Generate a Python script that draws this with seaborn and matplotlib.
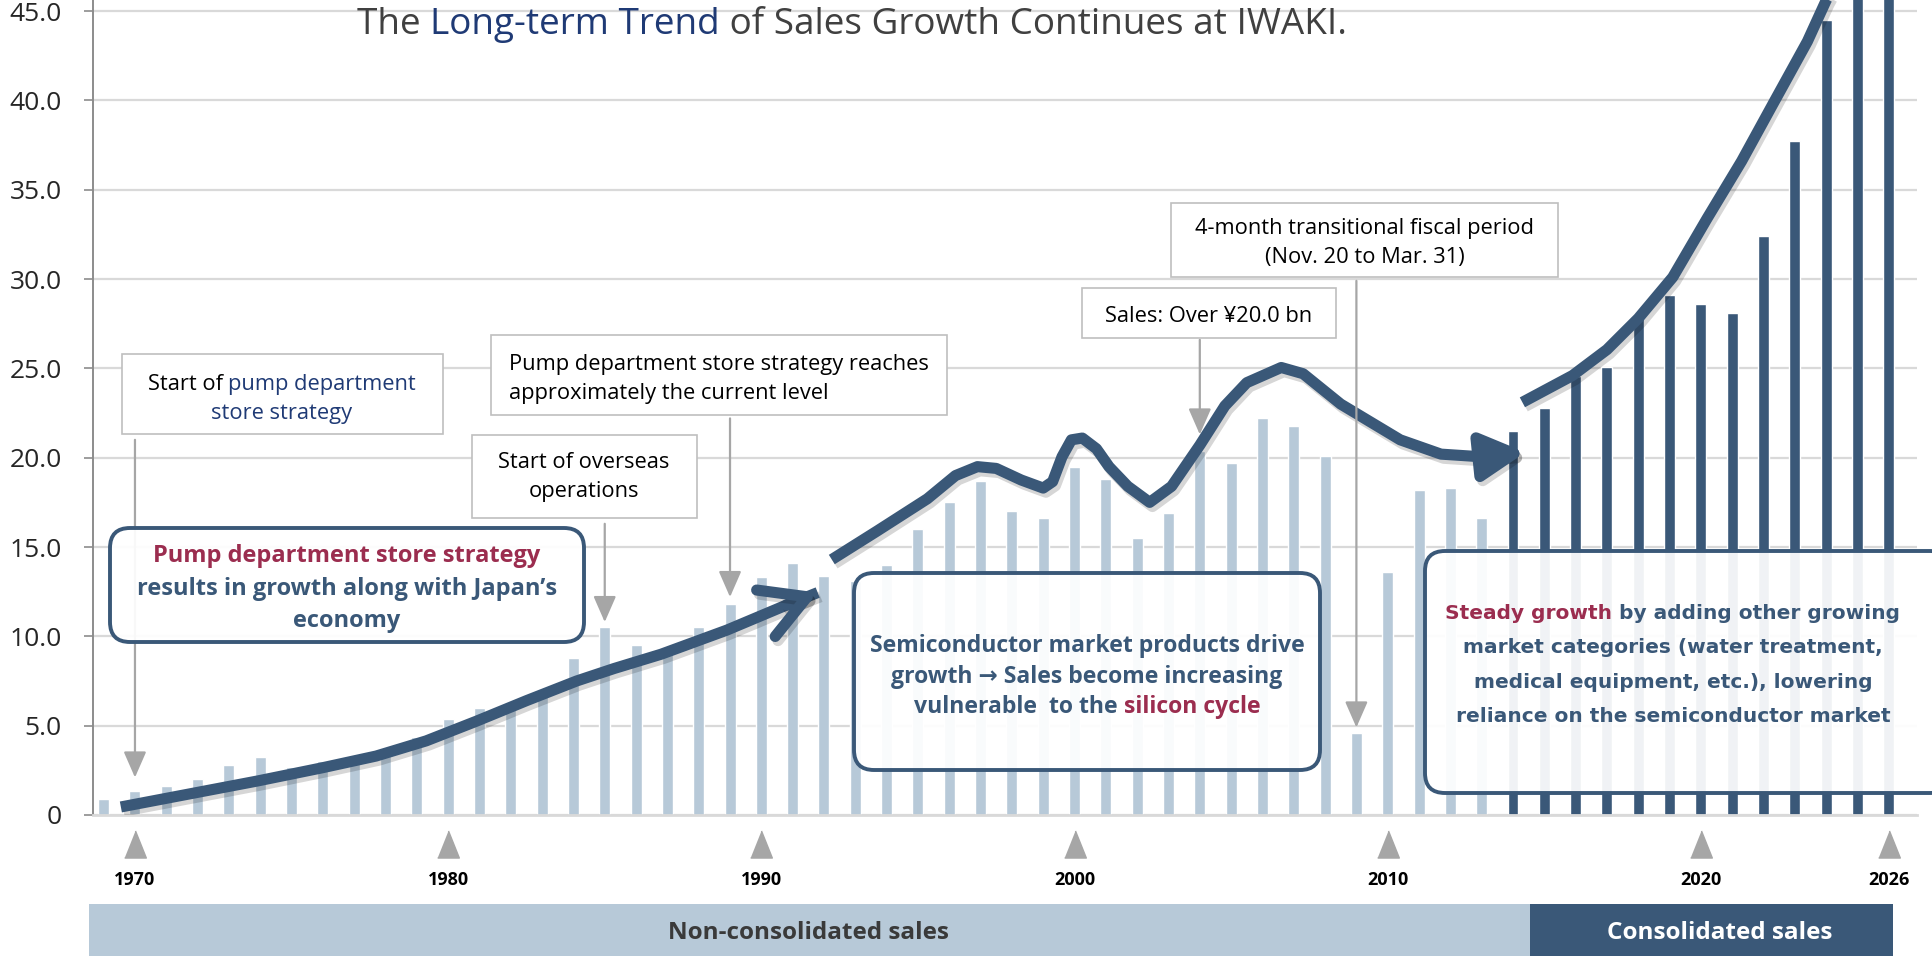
"""IWAKI long-term sales trend: yearly sales bars with annotated growth phases."""
import matplotlib

matplotlib.use("Agg")
import matplotlib.patheffects as pe
import matplotlib.pyplot as plt
import pandas as pd
import seaborn as sns
from matplotlib.patches import FancyBboxPatch, Rectangle
from matplotlib.transforms import IdentityTransform

# ---- data (sales, ¥ bn) -------------------------------------------------
years = list(range(1969, 2027))
non_consolidated = [
    0.9, 1.35, 1.6, 2.0, 2.8, 3.25, 2.7, 3.05, 3.3, 3.4,          # 1969-78
    4.35, 5.4, 6.0, 6.3, 6.9, 8.8, 10.5, 9.5, 9.2, 10.5,          # 1979-88
    11.8, 13.3, 14.1, 13.4, 13.1, 14.0, 16.0, 17.5, 18.7, 17.0,   # 1989-98
    16.6, 19.5, 18.8, 15.5, 16.9, 20.4, 19.7, 22.2, 21.8, 20.1,   # 1999-2008
    4.6, 13.6, 18.2, 18.3, 16.6,                                  # 2009-13
]
consolidated = [21.5, 22.8, 24.6, 25.1, 27.9, 29.1, 28.6, 28.1, 32.4, 37.7, 44.5, 49.0, 53.0]

ytick_values = [0, 5, 10, 15, 20, 25, 30, 35, 40, 45]
ytick_labels = ["0", "5.0", "10.0", "15.0", "20.0", "25.0", "30.0", "35.0", "40.0", "45.0"]
marked_years = [1970, 1980, 1990, 2000, 2010, 2020, 2026]

# hand-drawn trend ribbons (year, level)
trend_rise_year = [1969.55, 1971.8, 1973.9, 1976.0, 1977.7, 1979.3, 1980.9, 1982.5,
                   1984.1, 1985.3, 1986.8, 1988.9, 1990.8, 1991.8]
trend_rise_val = [0.45, 1.2, 1.9, 2.65, 3.3, 4.15, 5.25, 6.4, 7.5, 8.2, 9.0, 10.35, 11.75, 12.45]
trend_cycle_year = [1992.25, 1993.7, 1995.3, 1996.2, 1996.9, 1997.5, 1998.3, 1999.0, 1999.3,
                    1999.6, 1999.9, 2000.25, 2000.7, 2001.1, 2001.7, 2002.4, 2003.1, 2004.0,
                    2004.8, 2005.5, 2006.6, 2007.3, 2008.5, 2010.4, 2011.7, 2013.0, 2014.4]
trend_cycle_val = [14.3, 15.9, 17.7, 19.0, 19.5, 19.4, 18.75, 18.3, 18.66, 20.05, 21.0, 21.1,
                   20.5, 19.5, 18.4, 17.5, 18.4, 20.7, 22.9, 24.2, 25.05, 24.7, 23.0, 21.0,
                   20.2, 20.05, 20.3]
trend_steady_year = [2014.3, 2015.9, 2017.0, 2018.0, 2019.1, 2020.2, 2021.3, 2022.3, 2023.4,
                     2024.0, 2024.6]
trend_steady_val = [23.1, 24.6, 26.05, 27.8, 30.1, 33.4, 36.6, 39.8, 43.3, 45.6, 47.5]

DARK = "#3A5878"
LIGHT = "#B7C9D8"
CRIMSON = "#9B2D4F"
NAVY = "#1F3A75"
ARROW_GRAY = "#A6A6A6"
FONT = ["Open Sans", "DejaVu Sans"]

sns.set_theme(style="white")
plt.rcParams["font.family"] = FONT

W, H = 1933, 956
fig = plt.figure(figsize=(W / 100, H / 100), dpi=100)
renderer = fig.canvas.get_renderer()
ax = fig.add_axes([93 / W, 1 - 815 / H, (1917 - 93) / W, 815 / H])

df = pd.DataFrame({
    "year": [str(y) for y in years],
    "sales": non_consolidated + consolidated,
    "basis": ["Non-consolidated"] * len(non_consolidated) + ["Consolidated"] * len(consolidated),
})
sns.barplot(data=df, x="year", y="sales", hue="basis", dodge=False, width=0.35,
            palette={"Non-consolidated": LIGHT, "Consolidated": DARK},
            saturation=1, legend=False, ax=ax, zorder=2)


def idx(year):
    return year - years[0]


ax.set_xlim(-0.34, 57.9)
ax.set_ylim(0, 45.62)
ax.set_xlabel("")
ax.set_ylabel("")
ax.yaxis.grid(True, color="#D9D9D9", lw=1.6)
ax.set_axisbelow(True)
for side in ["top", "right"]:
    ax.spines[side].set_visible(False)
ax.spines["left"].set_color("#8C8C8C")
ax.spines["left"].set_linewidth(1.4)
ax.spines["bottom"].set_color("#D9D9D9")
ax.spines["bottom"].set_linewidth(2)
ax.set_yticks(ytick_values, ytick_labels)
ax.tick_params(axis="y", left=True, length=6.5, width=1.2, color="#8C8C8C", pad=16,
               labelsize=19, labelcolor="#262626")
ax.set_xticks([idx(y) for y in marked_years], [str(y) for y in marked_years])
ax.tick_params(axis="x", bottom=False, length=0, pad=40, labelsize=13, labelcolor="black")
for lbl in ax.get_xticklabels():
    lbl.set_fontweight("bold")

# grey triangles under the marked years
ax.plot([idx(y) for y in marked_years], [-0.035] * len(marked_years),
        transform=ax.get_xaxis_transform(), ls="none", clip_on=False,
        marker=[(-0.8, -1), (0.8, -1), (0, 1)], markersize=19.5, color=ARROW_GRAY)

# trend ribbons
shadow = [pe.SimpleLineShadow(offset=(2, -3), shadow_color="black", alpha=0.16), pe.Normal()]
line_kw = dict(color=DARK, lw=8, solid_joinstyle="round", path_effects=shadow, zorder=4)
ax.plot([idx(y) for y in trend_rise_year], trend_rise_val, solid_capstyle="butt", **line_kw)
ax.annotate("", xy=(idx(trend_rise_year[-1]), trend_rise_val[-1]),
            xytext=(idx(trend_rise_year[-2]), trend_rise_val[-2]),
            arrowprops=dict(arrowstyle="->,head_length=3.2,head_width=1.8", color=DARK, lw=8,
                            shrinkA=0, shrinkB=0, mutation_scale=10, path_effects=shadow),
            zorder=4)
ax.plot([idx(y) for y in trend_cycle_year[:-1]], trend_cycle_val[:-1], solid_capstyle="butt", **line_kw)
ax.annotate("", xy=(idx(trend_cycle_year[-1]), trend_cycle_val[-1]),
            xytext=(idx(trend_cycle_year[-2]), trend_cycle_val[-2]),
            arrowprops=dict(arrowstyle="-|>,head_length=2.6,head_width=1.4", color=DARK, lw=8,
                            shrinkA=0, shrinkB=0, mutation_scale=10, path_effects=shadow),
            zorder=4)
ax.plot([idx(y) for y in trend_steady_year], trend_steady_val, solid_capstyle="butt", **line_kw)

# grey callout arrows (year, start level, tip level)
callouts = [(1970, 21.0, 2.1), (1985, 16.3, 10.8), (1989, 22.2, 12.2),
            (2004, 26.6, 21.3), (2009, 29.9, 4.9)]
for yr, y0, y1 in callouts:
    ax.annotate("", xy=(idx(yr), y1), xytext=(idx(yr), y0),
                arrowprops=dict(arrowstyle="-|>,head_length=0.8,head_width=0.35", color=ARROW_GRAY,
                                lw=1.6, shrinkA=0, shrinkB=0, mutation_scale=20), zorder=5)


# ---- text helpers (reference pixel coordinates, y from the top) -----------
def text_width(s, size, **kw):
    t = fig.text(0, 0, s, fontsize=size, **kw)
    w = t.get_window_extent(renderer).width
    t.remove()
    return w


def fit(s, width, **kw):
    return 20 * width / text_width(s, 20, **kw)


def rich(x, y, parts, size, ha="center", family=FONT, weight="normal", zorder=10):
    full = "".join(s for s, _ in parts)
    total = text_width(full, size, family=family, weight=weight)
    left = x - total / 2 if ha == "center" else x
    ref = text_width("l", size, family=family, weight=weight)
    prefix = ""
    for s, c in parts:
        off = text_width(prefix + "l", size, family=family, weight=weight) - ref if prefix else 0
        fig.text((left + off) / W, 1 - y / H, s, color=c, fontsize=size, family=family,
                 weight=weight, va="baseline", ha="left", zorder=zorder)
        prefix += s


def grey_box(x0, y0, x1, y1):
    fig.add_artist(Rectangle((x0, H - y1), x1 - x0, y1 - y0, transform=IdentityTransform(),
                             facecolor="white", edgecolor="#BFBFBF", lw=1.2, zorder=6))


def round_box(x0, y0, x1, y1):
    fig.add_artist(FancyBboxPatch((x0, H - y1), x1 - x0, y1 - y0,
                                  boxstyle="round,pad=0,rounding_size=20",
                                  transform=IdentityTransform(), facecolor=(1, 1, 1, 0.93),
                                  edgecolor=DARK, lw=2.8, zorder=6))


# title, kept just inside the top edge
title_parts = [("The ", "#404040"), ("Long-term Trend", NAVY),
               (" of Sales Growth Continues at IWAKI.", "#404040")]
tsize = fit("".join(s for s, _ in title_parts), 990)
rich(852, 34, title_parts, tsize)

# grey callout boxes
gsize = fit("Pump department store strategy reaches", 418)
grey_box(122, 354, 443, 434)
rich(282, 390, [("Start of ", "black"), ("pump department", NAVY)], gsize)
rich(282, 419, [("store strategy", NAVY)], gsize)
grey_box(491, 335, 947, 415)
rich(509, 370, [("Pump department store strategy reaches", "black")], gsize, ha="left")
rich(509, 399, [("approximately the current level", "black")], gsize, ha="left")
grey_box(472, 435, 697, 518)
rich(584, 468, [("Start of overseas", "black")], gsize)
rich(584, 497, [("operations", "black")], gsize)
grey_box(1082, 288, 1336, 338)
rich(1209, 322, [("Sales: Over ¥20.0 bn", "black")], gsize)
grey_box(1171, 203, 1558, 277)
rich(1365, 234, [("4-month transitional fiscal period", "black")], gsize)
rich(1365, 263, [("(Nov. 20 to Mar. 31)", "black")], gsize)

# rounded phase boxes
round_box(110, 528, 584, 642)
asize = fit("results in growth along with Japan’s", 420, weight="bold")
rich(347, 562, [("Pump department store strategy", CRIMSON)], asize, weight="bold")
rich(347, 595, [("results in growth along with Japan’s", DARK)], asize, weight="bold")
rich(347, 627, [("economy", DARK)], asize, weight="bold")

round_box(854, 573, 1320, 770)
bsize = fit("Semiconductor market products drive", 435, weight="bold")
rich(1087, 652, [("Semiconductor market products drive", DARK)], bsize, weight="bold")
rich(1087, 683, [("growth → Sales become increasing", DARK)], bsize, weight="bold")
rich(1087, 713, [("vulnerable  to the ", DARK), ("silicon cycle", CRIMSON)], bsize, weight="bold")

round_box(1425, 551, 1950, 793)
cfam = ["DejaVu Sans"]
csize = fit("Steady growth by adding other growing", 455, family=cfam, weight="bold")
rich(1673, 619, [("Steady growth", CRIMSON), (" by adding other growing", DARK)], csize,
     family=cfam, weight="bold")
rich(1673, 653, [("market categories (water treatment,", DARK)], csize, family=cfam, weight="bold")
rich(1673, 688, [("medical equipment, etc.), lowering", DARK)], csize, family=cfam, weight="bold")
rich(1673, 722, [("reliance on the semiconductor market", DARK)], csize, family=cfam, weight="bold")

# bottom bands
fig.add_artist(Rectangle((89, 0), 1530 - 89, 52, transform=IdentityTransform(),
                         facecolor=LIGHT, edgecolor="none", zorder=6))
fig.add_artist(Rectangle((1530, 0), 1893 - 1530, 52, transform=IdentityTransform(),
                         facecolor=DARK, edgecolor="none", zorder=6))
nsize = fit("Non-consolidated sales", 281, weight="bold")
rich(808, 939, [("Non-consolidated sales", "#3A3A3A")], nsize, weight="bold")
rich(1720, 939, [("Consolidated sales", "white")], nsize, weight="bold")

fig.savefig("out.png", dpi=100)
